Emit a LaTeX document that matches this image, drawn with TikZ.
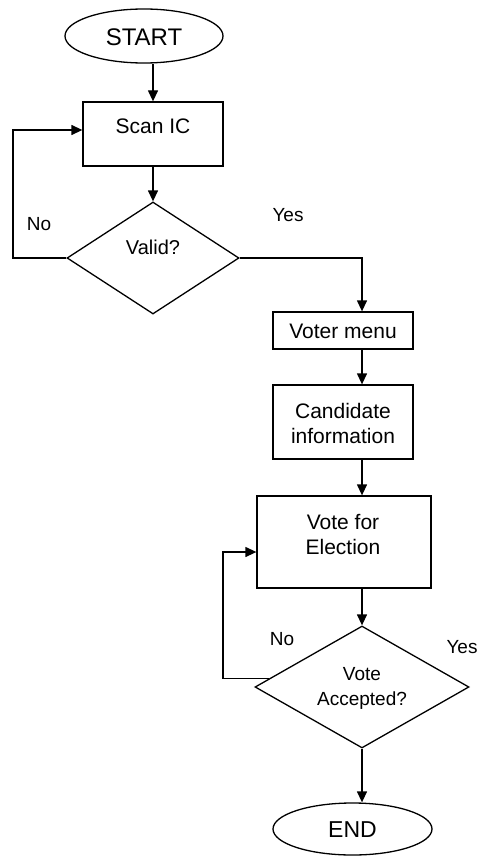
\documentclass[tikz,border=0pt]{standalone}
\usepackage{fontspec}
\setmainfont{Liberation Sans}
\usetikzlibrary{shapes.geometric,arrows.meta}
\begin{document}
\begin{tikzpicture}[x=1pt,y=-1pt,
  line width=1.3pt,
  box/.style={draw,rectangle,inner sep=0pt},
  oval/.style={draw,ellipse,inner sep=0pt},
  dia/.style={draw,diamond,inner sep=0pt},
  txt/.style={inner sep=0pt,align=center,font=\fontsize{21}{25}\selectfont},
  lbl/.style={inner sep=0pt,font=\fontsize{19}{22}\selectfont},
  arr/.style={-{Triangle[length=11pt,width=10pt]}}]
\useasboundingbox (0,0) rectangle (477,856);
% shapes
\node[oval,minimum width=158pt,minimum height=54pt] (start) at (144,36) {};
\node[box,minimum width=140pt,minimum height=64pt] (scan) at (153,134) {};
\node[dia,minimum width=172pt,minimum height=112pt] (valid) at (153,258) {};
\node[box,minimum width=140pt,minimum height=37pt] (voter) at (343,330.5) {};
\node[box,minimum width=140pt,minimum height=74pt] (cand) at (343,422) {};
\node[box,minimum width=174pt,minimum height=92pt] (vote) at (344,542) {};
\node[dia,minimum width=214pt,minimum height=122pt] (acc) at (362,687) {};
\node[oval,minimum width=159pt,minimum height=52pt] (end) at (352.5,829) {};
% texts
\node[txt,font=\fontsize{24}{28}\selectfont] (tstart) at (144,37) {START};
\node[txt] (tscan) at (153,126) {Scan IC};
\node[txt,font=\fontsize{20}{24}\selectfont] (tvalid) at (153,247) {Valid?};
\node[txt] (tvoter) at (343,331) {Voter menu};
\node[txt] (tcand) at (343,423) {Candidate\\information};
\node[txt] (tvote) at (343,534) {Vote for\\Election};
\node[txt,font=\fontsize{19}{25}\selectfont] (tacc) at (362,688) {Vote\\Accepted?};
\node[txt,font=\fontsize{23}{28}\selectfont] (tend) at (352.5,830) {END};
% labels
\node[lbl] (yes1) at (288,215) {Yes};
\node[lbl] (no1) at (39,224) {No};
\node[lbl] (no2) at (282,639) {No};
\node[lbl] (yes2) at (462,647) {Yes};
% helper coordinates
\coordinate (ax) at (362,0);
\coordinate (c0) at (13,130);
\coordinate (c1) at (223,552);
% connectors
\draw[arr] (scan.north |- start.south) -- (scan.north);
\draw[arr] (scan.south) -- (valid.north);
\draw[arr] (valid.west) -| (c0) -- (scan.west |- c0);
\draw[arr] (valid.east) -| (voter.north -| ax);
\draw[arr] (voter.south -| ax) -- (cand.north -| ax);
\draw[arr] (cand.south -| ax) -- (vote.north -| ax);
\draw[arr] (vote.south -| ax) -- (acc.north);
\draw[arr] (acc.175) -| (c1) -- (vote.west |- c1);
\draw[arr] (acc.south) -- (acc.south |- end.north);
\end{tikzpicture}
\end{document}
